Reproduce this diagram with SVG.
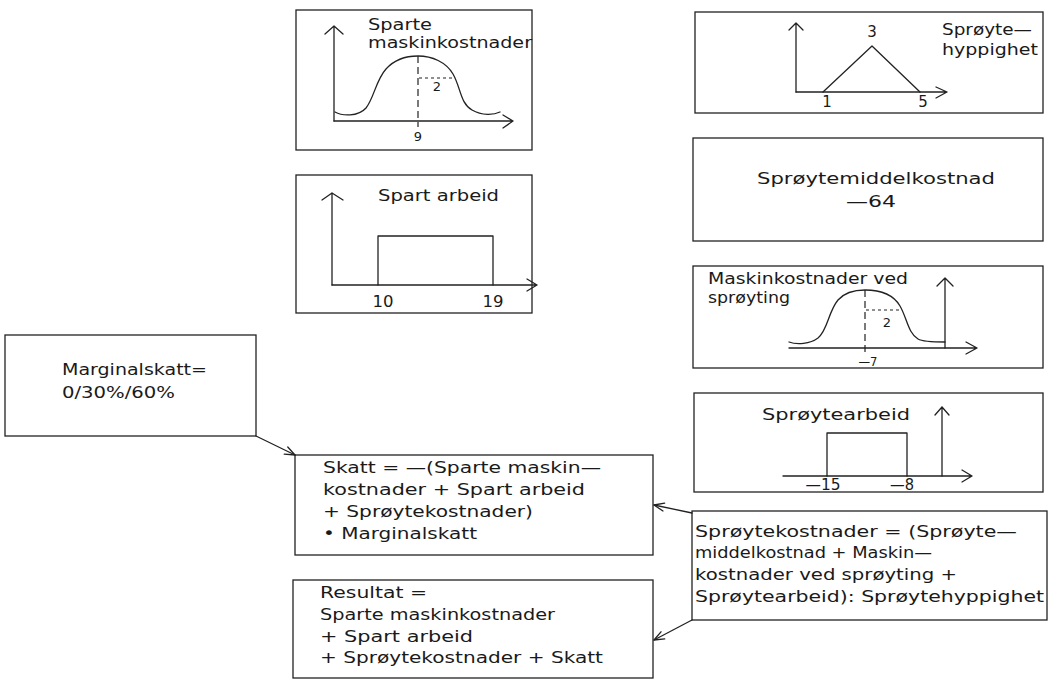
<svg xmlns="http://www.w3.org/2000/svg" width="1056" height="680" viewBox="0 0 1056 680">
  <style>
    .box { fill: none; stroke: #222; stroke-width: 1.3; }
    .ln { fill: none; stroke: #222; stroke-width: 1.3; stroke-linecap: round; stroke-linejoin: round; }
    .dash { fill: none; stroke: #222; stroke-width: 1.2; stroke-dasharray: 7 4; }
    .dot { fill: none; stroke: #222; stroke-width: 1.1; stroke-dasharray: 3 3; }
    text { font-family: "DejaVu Sans", "Liberation Sans", sans-serif; fill: #1a1a1a; }
    .t18 { font-size: 16px; }
    .t15 { font-size: 15px; }
    .t13 { font-size: 13px; }
    .mid { text-anchor: middle; }
  </style>
  <defs>
    <marker id="open" viewBox="0 0 12 10" refX="11" refY="5" markerWidth="12" markerHeight="10" markerUnits="userSpaceOnUse" orient="auto">
      <path d="M1,1 L11,5 L1,9" fill="none" stroke="#222" stroke-width="1.3" stroke-linecap="round" stroke-linejoin="round"/>
    </marker>
  </defs>

  <rect width="1056" height="680" fill="#ffffff"/>

  <!-- Sparte maskinkostnader -->
  <g id="sparte-maskinkostnader">
    <rect class="box" x="296" y="10" width="236" height="140"/>
    <path class="ln" d="M334,121 L334,26 M325,34 L334,26 L343,34"/>
    <path class="ln" d="M334,121 L513,121 M503,115 L513,121 L503,128"/>
    <path class="ln" d="M335,112 C342,116 358,117 366,108 C374,98 376,80 386,69 C395,59 406,56 418,56 C432,56 446,62 453,74 C461,88 460,103 472,110 C482,116 494,115 500,112"/>
    <path class="dash" d="M418,56 L418,127"/>
    <path class="dot" d="M419,78 L455,78"/>
    <text class="t18" x="368" y="30" textLength="64" lengthAdjust="spacingAndGlyphs">Sparte</text>
    <text class="t18" x="368" y="48" textLength="164" lengthAdjust="spacingAndGlyphs">maskinkostnader</text>
    <text class="t13 mid" x="437" y="91">2</text>
    <text class="t13 mid" x="418" y="141">9</text>
  </g>

  <!-- Spart arbeid -->
  <g id="spart-arbeid">
    <rect class="box" x="296" y="175" width="236" height="138"/>
    <path class="ln" d="M332,285 L332,193 M322,200 L332,193 L343,200"/>
    <path class="ln" d="M332,285 L537,285 M527,279 L537,285 L527,291"/>
    <path class="ln" d="M378,285 L378,236 L493,236 L493,285"/>
    <text class="t18" x="378" y="201" textLength="121" lengthAdjust="spacingAndGlyphs">Spart arbeid</text>
    <text class="t18 mid" x="383" y="307" textLength="21" lengthAdjust="spacingAndGlyphs">10</text>
    <text class="t18 mid" x="493" y="307" textLength="21" lengthAdjust="spacingAndGlyphs">19</text>
  </g>

  <!-- Sprøytehyppighet -->
  <g id="sproytehyppighet">
    <rect class="box" x="695" y="12" width="348" height="101"/>
    <path class="ln" d="M796,92 L796,23 M789,30 L796,23 L803,30"/>
    <path class="ln" d="M796,92 L947,92 M936,87 L947,92 L936,98"/>
    <path class="ln" d="M823,92 L872,46 L920,92"/>
    <text class="t15 mid" x="872" y="37">3</text>
    <text class="t15 mid" x="827" y="107">1</text>
    <text class="t15 mid" x="923" y="107">5</text>
    <text class="t15" x="942" y="35" textLength="90" lengthAdjust="spacingAndGlyphs">Sprøyte—</text>
    <text class="t15" x="942" y="55" textLength="96" lengthAdjust="spacingAndGlyphs">hyppighet</text>
  </g>

  <!-- Sprøytemiddelkostnad -->
  <g id="sproytemiddelkostnad">
    <rect class="box" x="693" y="138" width="350" height="103"/>
    <text class="t18" x="757" y="184" textLength="238" lengthAdjust="spacingAndGlyphs">Sprøytemiddelkostnad</text>
    <text class="t18 mid" x="871" y="207" textLength="50" lengthAdjust="spacingAndGlyphs">—64</text>
  </g>

  <!-- Maskinkostnader ved sprøyting -->
  <g id="maskinkostnader-sproyting">
    <rect class="box" x="693" y="266" width="350" height="102"/>
    <path class="ln" d="M945,348 L945,278 M937,286 L945,278 L953,286"/>
    <path class="ln" d="M789,348 L977,348 M966,342 L977,348 L966,354"/>
    <path class="ln" d="M789,342 C797,345 810,344 818,338 C828,330 828,312 838,300 C845,292 855,290 865,290 C880,290 893,294 900,306 C907,318 908,333 918,339 C923,342 935,342 945,342"/>
    <path class="dash" d="M865,290 L865,354"/>
    <path class="dot" d="M866,310 L902,310"/>
    <text class="t15" x="708" y="284" textLength="200" lengthAdjust="spacingAndGlyphs">Maskinkostnader ved</text>
    <text class="t15" x="708" y="303" textLength="82" lengthAdjust="spacingAndGlyphs">sprøyting</text>
    <text class="t13 mid" x="887" y="327">2</text>
    <text class="t13 mid" x="868" y="366" textLength="19" lengthAdjust="spacingAndGlyphs">—7</text>
  </g>

  <!-- Sprøytearbeid -->
  <g id="sproytearbeid">
    <rect class="box" x="694" y="393" width="349" height="99"/>
    <path class="ln" d="M942,476 L942,407 M935,415 L942,407 L949,415"/>
    <path class="ln" d="M783,476 L972,476 M962,470 L972,476 L962,482"/>
    <path class="ln" d="M827,476 L827,433 L907,433 L907,476"/>
    <text class="t18" x="762" y="420" textLength="148" lengthAdjust="spacingAndGlyphs">Sprøytearbeid</text>
    <text class="t15 mid" x="823" y="490" textLength="35" lengthAdjust="spacingAndGlyphs">—15</text>
    <text class="t15 mid" x="902" y="490" textLength="24" lengthAdjust="spacingAndGlyphs">—8</text>
  </g>

  <!-- Marginalskatt -->
  <g id="marginalskatt">
    <rect class="box" x="5" y="335" width="251" height="101"/>
    <text class="t15" x="62" y="375" textLength="145" lengthAdjust="spacingAndGlyphs">Marginalskatt=</text>
    <text class="t15" x="62" y="398" textLength="113" lengthAdjust="spacingAndGlyphs">0/30%/60%</text>
  </g>

  <!-- Skatt -->
  <g id="skatt">
    <rect class="box" x="295" y="455" width="358" height="100"/>
    <text class="t15" x="323" y="473" textLength="278" lengthAdjust="spacingAndGlyphs">Skatt = —(Sparte maskin—</text>
    <text class="t15" x="323" y="495" textLength="262" lengthAdjust="spacingAndGlyphs">kostnader + Spart arbeid</text>
    <text class="t15" x="323" y="517" textLength="210" lengthAdjust="spacingAndGlyphs">+ Sprøytekostnader)</text>
    <text class="t15" x="323" y="539" textLength="154" lengthAdjust="spacingAndGlyphs">• Marginalskatt</text>
  </g>

  <!-- Sprøytekostnader -->
  <g id="sproytekostnader">
    <rect class="box" x="692" y="511" width="355" height="109"/>
    <text class="t15" x="695" y="537" textLength="322" lengthAdjust="spacingAndGlyphs">Sprøytekostnader = (Sprøyte—</text>
    <text class="t15" x="695" y="558" textLength="237" lengthAdjust="spacingAndGlyphs">middelkostnad + Maskin—</text>
    <text class="t15" x="695" y="580" textLength="262" lengthAdjust="spacingAndGlyphs">kostnader ved sprøyting +</text>
    <text class="t15" x="695" y="602" textLength="349" lengthAdjust="spacingAndGlyphs">Sprøytearbeid): Sprøytehyppighet</text>
  </g>

  <!-- Resultat -->
  <g id="resultat">
    <rect class="box" x="293" y="580" width="360" height="98"/>
    <text class="t15" x="320" y="598" textLength="107" lengthAdjust="spacingAndGlyphs">Resultat =</text>
    <text class="t15" x="320" y="620" textLength="235" lengthAdjust="spacingAndGlyphs">Sparte maskinkostnader</text>
    <text class="t15" x="320" y="642" textLength="153" lengthAdjust="spacingAndGlyphs">+ Spart arbeid</text>
    <text class="t15" x="320" y="663" textLength="283" lengthAdjust="spacingAndGlyphs">+ Sprøytekostnader + Skatt</text>
  </g>

  <!-- Connectors -->
  <g id="connectors" class="ln">
    <line x1="256" y1="436" x2="295" y2="455" marker-end="url(#open)"/>
    <line x1="692" y1="513" x2="654" y2="505" marker-end="url(#open)"/>
    <line x1="692" y1="620" x2="654" y2="640" marker-end="url(#open)"/>
  </g>
</svg>
